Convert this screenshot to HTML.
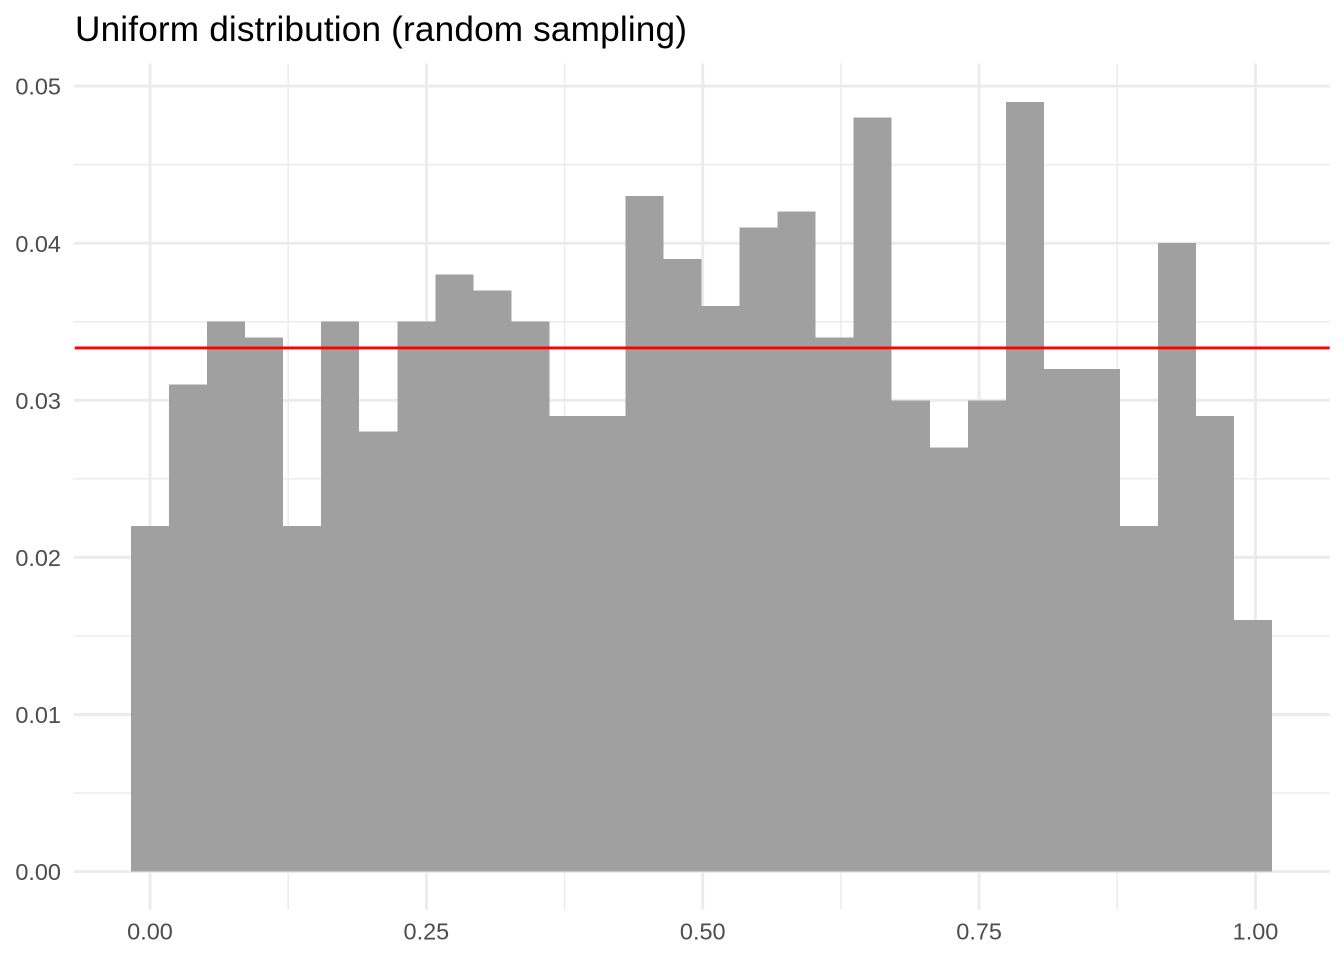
<!DOCTYPE html>
<html lang="en">
<head>
<meta charset="utf-8">
<title>Uniform distribution (random sampling)</title>
<style>
html,body{margin:0;padding:0;background:#fff;width:1344px;height:960px;overflow:hidden}
svg{display:block}
text{font-family:"Liberation Sans",sans-serif}
</style>
</head>
<body>
<svg id="chart" width="1344" height="960" viewBox="0 0 1344 960" xmlns="http://www.w3.org/2000/svg">
  <rect x="0" y="0" width="1344" height="960" fill="#ffffff"/>
  <text x="75" y="41" font-size="35.2" letter-spacing="0.155" fill="#000000">Uniform distribution (random sampling)</text>
  <g id="grid"></g>
  <g id="bars" shape-rendering="crispEdges"></g>
  <g id="refline"></g>
  <g id="xaxis"></g>
  <g id="yaxis"></g>
</svg>
<script>
const binDensities = [0.022,0.031,0.035,0.034,0.022,0.035,0.028,0.035,0.038,0.037,0.035,0.029,0.029,0.043,0.039,0.036,0.041,0.042,0.034,0.048,0.030,0.027,0.030,0.049,0.032,0.032,0.022,0.040,0.029,0.016];
const binStart = -0.017187;
const binWidth = 0.0344065;
const xTicks = [0,0.25,0.5,0.75,1];
const xTickLabels = ["0.00","0.25","0.50","0.75","1.00"];
const xMinorTicks = [0.125,0.375,0.625,0.875];
const yTicks = [0,0.01,0.02,0.03,0.04,0.05];
const yTickLabels = ["0.00","0.01","0.02","0.03","0.04","0.05"];
const yMinorTicks = [0.005,0.015,0.025,0.035,0.045];
const referenceValue = [1/30];

const NS = "http://www.w3.org/2000/svg";
const panel = {left:73.7,right:1329.7,top:63.5,bottom:909.8};
function xScale(v){return 150 + v*1105.5;}
function yScale(v){return 871.6 - v*15711;}
function make(tag,attrs,parent){
  const el = document.createElementNS(NS,tag);
  for(const k in attrs){el.setAttribute(k,attrs[k]);}
  parent.appendChild(el);
  return el;
}
const grid = document.getElementById("grid");
yMinorTicks.forEach(function(v){
  const el = make("line",{x1:panel.left,x2:panel.right,y1:yScale(v),y2:yScale(v),stroke:"#ebebeb","stroke-width":1.45},grid);
  
  
});
xMinorTicks.forEach(function(v){
  const el = make("line",{x1:xScale(v),x2:xScale(v),y1:panel.top,y2:panel.bottom,stroke:"#ebebeb","stroke-width":1.45},grid);
  
  
});
yTicks.forEach(function(v){
  const el = make("line",{x1:panel.left,x2:panel.right,y1:yScale(v),y2:yScale(v),stroke:"#ebebeb","stroke-width":2.9},grid);
  
  
});
xTicks.forEach(function(v){
  const el = make("line",{x1:xScale(v),x2:xScale(v),y1:panel.top,y2:panel.bottom,stroke:"#ebebeb","stroke-width":2.9},grid);
  
  
});
const bars = document.getElementById("bars");
binDensities.forEach(function(d,i){
  const x0 = xScale(binStart + i*binWidth);
  const x1 = xScale(binStart + (i+1)*binWidth);
  const el = make("rect",{x:x0,y:yScale(d),width:x1-x0,height:yScale(0)-yScale(d),fill:"#a0a0a0"},bars);
  
  
});
const refline = document.getElementById("refline");
referenceValue.forEach(function(v){
  const el = make("line",{x1:panel.left+1,x2:panel.right,y1:yScale(v),y2:yScale(v),stroke:"#ff0000","stroke-width":2.9},refline);
  
  
});
const xaxis = document.getElementById("xaxis");
xTicks.forEach(function(v,i){
  const el = make("text",{x:xScale(v),y:939.5,"text-anchor":"middle","font-size":23.47,fill:"#4d4d4d"},xaxis);
  
  
  el.textContent = xTickLabels[i];
});
const yaxis = document.getElementById("yaxis");
yTicks.forEach(function(v,i){
  const el = make("text",{x:61,y:yScale(v)+8.6,"text-anchor":"end","font-size":23.47,fill:"#4d4d4d"},yaxis);
  
  
  el.textContent = yTickLabels[i];
});
</script>
</body>
</html>
